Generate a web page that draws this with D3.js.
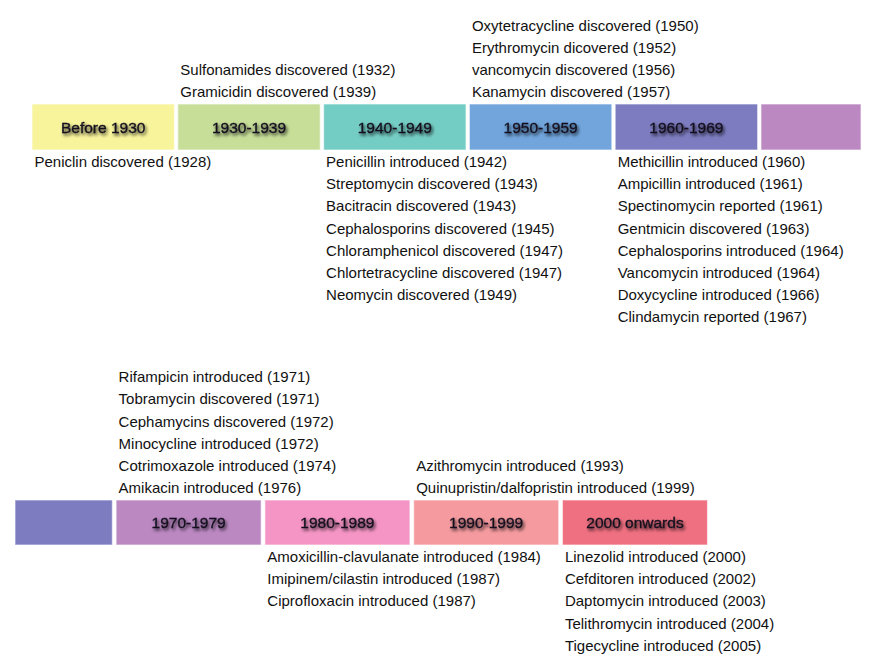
<!DOCTYPE html>
<html>
<head>
<meta charset="utf-8">
<script src="https://cdn.jsdelivr.net/npm/d3@7/dist/d3.min.js"></script>
<style>
  html, body { margin: 0; padding: 0; background: #ffffff; }
  svg { display: block; }
  text { font-family: "Liberation Sans", Arial, Helvetica, sans-serif; }
</style>
</head>
<body>
<svg id="chart" width="880" height="666"></svg>
<script>
// ---------- data ----------
const topPeriods = ["Before 1930", "1930-1939", "1940-1949", "1950-1959", "1960-1969", ""];
const topColors  = ["#f8f49c", "#c6de98", "#74cdc4", "#71a5dc", "#7d7cc0", "#bb88c2"];

const bottomPeriods = ["", "1970-1979", "1980-1989", "1990-1999", "2000 onwards"];
const bottomColors  = ["#7d7cc0", "#bb88c2", "#f595c5", "#f59b9f", "#ef7081"];

// events above / below each period box (top row)
const topAbove = [
  [],
  ["Sulfonamides discovered (1932)", "Gramicidin discovered (1939)"],
  [],
  ["Oxytetracycline discovered (1950)", "Erythromycin dicovered (1952)", "vancomycin discovered (1956)", "Kanamycin discovered (1957)"],
  [],
  []
];
const topBelow = [
  ["Peniclin discovered (1928)"],
  [],
  ["Penicillin introduced (1942)", "Streptomycin discovered (1943)", "Bacitracin discovered (1943)", "Cephalosporins discovered (1945)", "Chloramphenicol discovered (1947)", "Chlortetracycline discovered (1947)", "Neomycin discovered (1949)"],
  [],
  ["Methicillin introduced (1960)", "Ampicillin introduced (1961)", "Spectinomycin reported (1961)", "Gentmicin discovered (1963)", "Cephalosporins introduced (1964)", "Vancomycin introduced (1964)", "Doxycycline introduced (1966)", "Clindamycin reported (1967)"],
  []
];
// bottom row
const bottomAbove = [
  [],
  ["Rifampicin introduced (1971)", "Tobramycin discovered (1971)", "Cephamycins discovered (1972)", "Minocycline introduced (1972)", "Cotrimoxazole introduced (1974)", "Amikacin introduced (1976)"],
  [],
  ["Azithromycin introduced (1993)", "Quinupristin/dalfopristin introduced (1999)"],
  []
];
const bottomBelow = [
  [],
  [],
  ["Amoxicillin-clavulanate introduced (1984)", "Imipinem/cilastin introduced (1987)", "Ciprofloxacin introduced (1987)"],
  [],
  ["Linezolid introduced (2000)", "Cefditoren introduced (2002)", "Daptomycin introduced (2003)", "Telithromycin introduced (2004)", "Tigecycline introduced (2005)"]
];

// ---------- layout ----------
const svg = d3.select("#chart");
const defs = svg.append("defs");
const f = defs.append("filter").attr("id", "shadow")
  .attr("x", "-20%").attr("y", "-50%").attr("width", "140%").attr("height", "200%");
f.append("feDropShadow").attr("dx", 1.5).attr("dy", 2.2).attr("stdDeviation", 1.7)
  .attr("flood-color", "#000").attr("flood-opacity", 0.75);

const lineStep = 22.2;
const fontSize = 15;

function drawRow(cfg) {
  const idx = d3.range(cfg.periods.length);
  const x = d3.scaleBand().domain(idx).range(cfg.range).paddingInner(cfg.pad).paddingOuter(0);
  const y = d3.scaleLinear().domain([0, 1]).range([cfg.top, cfg.bottom]);
  const g = svg.append("g");

  const boxes = g.selectAll("g.box").data(idx).join("g").attr("class", "box");
  const left  = i => Math.max(x(i), cfg.visible[0]);
  const right = i => Math.min(x(i) + x.bandwidth(), cfg.visible[1]);

  boxes.append("rect")
    .attr("x", i => left(i))
    .attr("y", y(0))
    .attr("width", i => right(i) - left(i))
    .attr("height", y(1) - y(0))
    .attr("fill", i => cfg.colors[i])
    .attr("stroke", "#ffffff")
    .attr("stroke-opacity", 0.55)
    .attr("stroke-width", 1.2);

  boxes.append("text")
    .attr("x", i => (left(i) + right(i)) / 2)
    .attr("y", y(0.5) + 5.5)
    .attr("text-anchor", "middle")
    .attr("font-size", 15.5)
    .attr("fill", "#15121f")
    .attr("stroke", "#15121f")
    .attr("stroke-width", 0.35)
    .attr("filter", "url(#shadow)")
    .text(i => cfg.periods[i]);

  idx.forEach(i => {
    const items = cfg.above[i];
    const n = items.length;
    g.selectAll(null).data(items).join("text")
      .attr("x", left(i) + 2.5)
      .attr("y", (d, k) => y(0) - 6.8 - (n - 1 - k) * lineStep)
      .attr("font-size", fontSize)
      .attr("fill", "#111111")
      .text(d => d);
    g.selectAll(null).data(cfg.below[i]).join("text")
      .attr("x", left(i) + 2.5)
      .attr("y", (d, k) => y(1) + 17 + k * lineStep)
      .attr("font-size", fontSize)
      .attr("fill", "#111111")
      .text(d => d);
  });
}

drawRow({
  periods: topPeriods, colors: topColors, above: topAbove, below: topBelow,
  range: [32, 903.4], pad: 0.023, visible: [32, 861], top: 104, bottom: 150
});
drawRow({
  periods: bottomPeriods, colors: bottomColors, above: bottomAbove, below: bottomBelow,
  range: [-32.7, 707.5], pad: 0.025, visible: [15, 880], top: 500, bottom: 545
});
</script>
</body>
</html>
